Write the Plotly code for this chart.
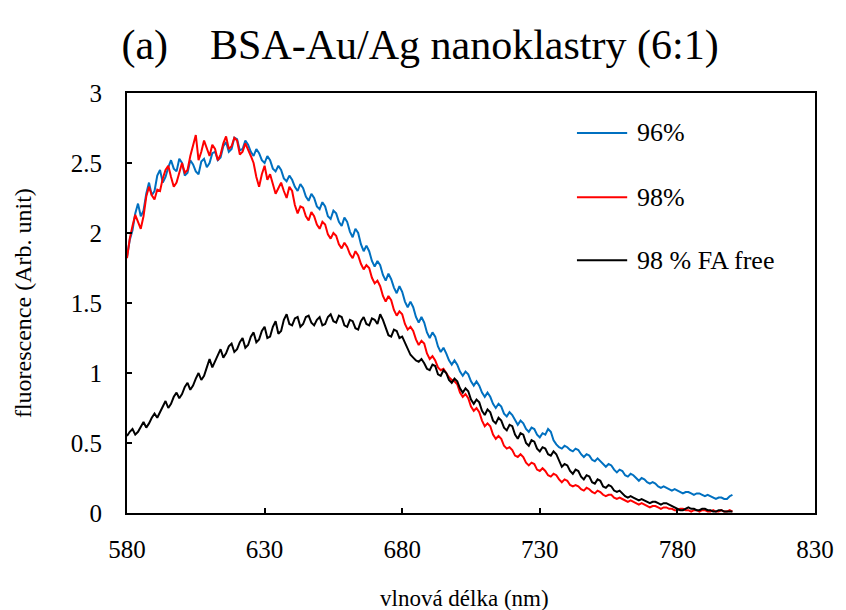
import plotly.graph_objects as go

wavelength = list(range(580, 801))

s96 = [
    1.83, 1.95, 2.02, 2.14, 2.21, 2.12, 2.16, 2.28, 2.36, 2.27,
    2.30, 2.41, 2.45, 2.36, 2.40, 2.47, 2.52, 2.46, 2.44, 2.53,
    2.50, 2.41, 2.43, 2.52, 2.49, 2.44, 2.42, 2.51, 2.53, 2.47,
    2.50, 2.57, 2.58, 2.52, 2.54, 2.62, 2.65, 2.58, 2.60, 2.68,
    2.67, 2.59, 2.60, 2.66, 2.63, 2.58, 2.55, 2.60, 2.57, 2.52,
    2.50, 2.55, 2.52, 2.46, 2.44, 2.48, 2.45, 2.39, 2.37, 2.41,
    2.38, 2.33, 2.30, 2.35, 2.32, 2.26, 2.23, 2.28, 2.25, 2.19,
    2.17, 2.22, 2.19, 2.12, 2.10, 2.16, 2.14, 2.08, 2.05, 2.11,
    2.08, 2.01, 1.97, 2.03, 2.00, 1.92, 1.87, 1.91, 1.87, 1.80,
    1.76, 1.80, 1.77, 1.70, 1.66, 1.71, 1.67, 1.61, 1.57, 1.62,
    1.58, 1.51, 1.47, 1.51, 1.47, 1.40, 1.36, 1.40, 1.36, 1.29,
    1.25, 1.29, 1.26, 1.19, 1.15, 1.18, 1.14, 1.09, 1.06, 1.09,
    1.06, 1.01, 0.98, 1.01, 0.99, 0.94, 0.91, 0.94, 0.91, 0.86,
    0.83, 0.86, 0.83, 0.78, 0.75, 0.78, 0.76, 0.71, 0.69, 0.72,
    0.70, 0.66, 0.63, 0.66, 0.64, 0.60, 0.58, 0.61, 0.60, 0.56,
    0.54, 0.57, 0.56, 0.60, 0.58, 0.52, 0.49, 0.47, 0.46, 0.48,
    0.47, 0.45, 0.44, 0.46, 0.45, 0.42, 0.40, 0.42, 0.41, 0.38,
    0.37, 0.39, 0.37, 0.35, 0.33, 0.35, 0.34, 0.31, 0.29, 0.31,
    0.30, 0.27, 0.26, 0.28, 0.27, 0.25, 0.23, 0.25, 0.24, 0.22,
    0.21, 0.22, 0.21, 0.19, 0.18, 0.19, 0.18, 0.17, 0.16, 0.17,
    0.16, 0.15, 0.14, 0.15, 0.15, 0.14, 0.13, 0.14, 0.14, 0.13,
    0.12, 0.13, 0.12, 0.11, 0.10, 0.11, 0.11, 0.10, 0.10, 0.12,
    0.13]

s98 = [
    1.82, 1.96, 2.05, 2.13, 2.08, 2.03, 2.12, 2.26, 2.33, 2.27,
    2.24, 2.31, 2.30, 2.39, 2.45, 2.48, 2.40, 2.33, 2.36, 2.44,
    2.50, 2.43, 2.45, 2.55, 2.62, 2.70, 2.52, 2.58, 2.66, 2.60,
    2.55, 2.63, 2.60, 2.52, 2.56, 2.64, 2.69, 2.60, 2.62, 2.68,
    2.66, 2.56, 2.58, 2.64, 2.60, 2.55, 2.50, 2.40, 2.33, 2.42,
    2.48, 2.38, 2.42, 2.35, 2.28, 2.32, 2.36, 2.30, 2.25, 2.33,
    2.30, 2.20, 2.14, 2.19, 2.18, 2.12, 2.09, 2.15, 2.12, 2.06,
    2.03, 2.08, 2.06, 1.99, 1.96, 2.00, 1.98, 1.92, 1.89, 1.93,
    1.90, 1.85, 1.82, 1.87, 1.84, 1.78, 1.74, 1.77, 1.75, 1.68,
    1.64, 1.66, 1.62, 1.55, 1.51, 1.55, 1.52, 1.45, 1.41, 1.44,
    1.42, 1.35, 1.31, 1.33, 1.30, 1.24, 1.20, 1.23, 1.21, 1.14,
    1.10, 1.12, 1.09, 1.04, 1.02, 1.03, 1.00, 0.97, 0.95, 0.94,
    0.92, 0.86, 0.83, 0.85, 0.82, 0.76, 0.73, 0.75, 0.72, 0.66,
    0.62, 0.64, 0.62, 0.56, 0.53, 0.55, 0.53, 0.48, 0.46, 0.47,
    0.45, 0.41, 0.40, 0.42, 0.40, 0.36, 0.34, 0.36, 0.35, 0.31,
    0.30, 0.32, 0.30, 0.27, 0.26, 0.28, 0.27, 0.24, 0.22, 0.24,
    0.23, 0.20, 0.19, 0.20, 0.19, 0.17, 0.16, 0.18, 0.17, 0.15,
    0.14, 0.16, 0.15, 0.13, 0.12, 0.13, 0.13, 0.11, 0.10, 0.11,
    0.10, 0.09, 0.08, 0.09, 0.08, 0.07, 0.06, 0.07, 0.06, 0.05,
    0.04, 0.05, 0.05, 0.04, 0.03, 0.04, 0.04, 0.03, 0.03, 0.02,
    0.02, 0.03, 0.03, 0.02, 0.02, 0.01, 0.02, 0.02, 0.01, 0.02,
    0.02, 0.01, 0.01, 0.02, 0.01, 0.01, 0.02, 0.01, 0.01, 0.02,
    0.01]

s98_fa_free = [
    0.55, 0.58, 0.60, 0.56, 0.58, 0.62, 0.65, 0.61, 0.64, 0.68,
    0.71, 0.68, 0.72, 0.77, 0.80, 0.75, 0.78, 0.83, 0.86, 0.82,
    0.85, 0.90, 0.93, 0.88, 0.91, 0.96, 1.00, 0.95, 0.98, 1.04,
    1.10, 1.04, 1.08, 1.13, 1.17, 1.11, 1.14, 1.19, 1.21, 1.15,
    1.17, 1.22, 1.25, 1.18, 1.20, 1.26, 1.29, 1.22, 1.24, 1.30,
    1.33, 1.25, 1.26, 1.33, 1.37, 1.28, 1.30, 1.38, 1.42, 1.35,
    1.34, 1.39, 1.40, 1.33, 1.35, 1.40, 1.41, 1.36, 1.34, 1.38,
    1.40, 1.34, 1.35, 1.40, 1.42, 1.37, 1.36, 1.41, 1.40, 1.34,
    1.33, 1.38, 1.37, 1.32, 1.31, 1.37, 1.40, 1.35, 1.34, 1.39,
    1.38, 1.35, 1.42, 1.38, 1.33, 1.27, 1.26, 1.31, 1.30, 1.25,
    1.26, 1.22, 1.17, 1.13, 1.11, 1.09, 1.08, 1.10, 1.07, 1.03,
    1.02, 1.06, 1.05, 0.99, 0.98, 1.02, 1.00, 0.95, 0.93, 0.96,
    0.94, 0.89, 0.86, 0.89, 0.87, 0.81, 0.78, 0.81, 0.79, 0.73,
    0.70, 0.74, 0.72, 0.66, 0.64, 0.68, 0.66, 0.61, 0.59, 0.63,
    0.62, 0.56, 0.53, 0.57, 0.56, 0.50, 0.48, 0.52, 0.51, 0.46,
    0.44, 0.47, 0.46, 0.42, 0.41, 0.44, 0.42, 0.37, 0.33, 0.35,
    0.34, 0.30, 0.28, 0.31, 0.30, 0.26, 0.24, 0.27, 0.26, 0.22,
    0.21, 0.24, 0.23, 0.19, 0.18, 0.20, 0.19, 0.16, 0.15, 0.16,
    0.14, 0.12, 0.11, 0.12, 0.11, 0.10, 0.09, 0.10, 0.09, 0.08,
    0.07, 0.08, 0.08, 0.07, 0.06, 0.07, 0.07, 0.06, 0.05, 0.04,
    0.03, 0.02, 0.02, 0.03, 0.04, 0.03, 0.03, 0.02, 0.02, 0.03,
    0.03, 0.02, 0.02, 0.01, 0.01, 0.02, 0.02, 0.01, 0.01, 0.01,
    0.01]

series_names = ["96%", "98%", "98 % FA free"]
series_colors = ["#0070C0", "#FF0000", "#000000"]
series_values = [s96, s98, s98_fa_free]
for v in series_values:
    assert len(v) == len(wavelength), len(v)

x_ticks = [580, 630, 680, 730, 780, 830]
y_ticks = [0, 0.5, 1, 1.5, 2, 2.5, 3]
y_tick_text = ["0", "0.5", "1", "1.5", "2", "2.5", "3"]

FONT = "Liberation Serif"

fig = go.Figure()
for name, col, vals in zip(series_names, series_colors, series_values):
    fig.add_trace(go.Scatter(x=wavelength, y=vals, mode="lines", name=name,
                             line=dict(color=col, width=2), showlegend=False))

# custom legend (line sample + label)
leg_y = [0.905, 0.752, 0.602]
for name, col, yy in zip(series_names, series_colors, leg_y):
    fig.add_shape(type="line", xref="paper", yref="paper", x0=0.654, x1=0.727, y0=yy, y1=yy,
                  line=dict(color=col, width=2))
    fig.add_annotation(xref="paper", yref="paper", x=0.738, y=yy, text=name, showarrow=False,
                       xanchor="left", yanchor="middle", font=dict(family=FONT, size=26, color="black"))

fig.add_annotation(xref="paper", yref="paper", x=0.49, y=-0.203, text="vlnová délka (nm)",
                   showarrow=False, xanchor="center", yanchor="middle",
                   font=dict(family=FONT, size=23, color="black"))
fig.add_annotation(xref="paper", yref="paper", x=-0.151, y=0.5, text="fluorescence (Arb. unit)",
                   showarrow=False, textangle=-90, xanchor="center", yanchor="middle",
                   font=dict(family=FONT, size=24, color="black"))

fig.update_layout(
    width=846, height=610,
    margin=dict(l=127, r=23, t=93, b=97),
    paper_bgcolor="white", plot_bgcolor="white",
    title=dict(text="(a)\u00a0\u00a0\u00a0\u00a0BSA-Au/Ag nanoklastry (6:1)", x=0.4965, xanchor="center",
               y=1 - 44 / 610, yanchor="middle", yref="container",
               font=dict(family=FONT, size=42, color="black")),
    font=dict(family=FONT, size=24, color="black"),
)
fig.update_xaxes(range=[580, 830], tickvals=x_ticks, ticks="inside", ticklen=5, tickwidth=1.5,
                 tickcolor="black", showline=True, linecolor="black", linewidth=2, mirror=True,
                 showgrid=False, zeroline=False, ticklabelstandoff=13,
                 tickfont=dict(family=FONT, size=25, color="black"))
fig.update_yaxes(range=[0, 3], tickvals=y_ticks, ticktext=y_tick_text, ticks="inside", ticklen=5,
                 tickwidth=1.5, tickcolor="black", showline=True, linecolor="black", linewidth=2,
                 mirror=True, showgrid=False, zeroline=False, ticklabelstandoff=18,
                 tickfont=dict(family=FONT, size=25, color="black"))

fig.write_html("out.html")
